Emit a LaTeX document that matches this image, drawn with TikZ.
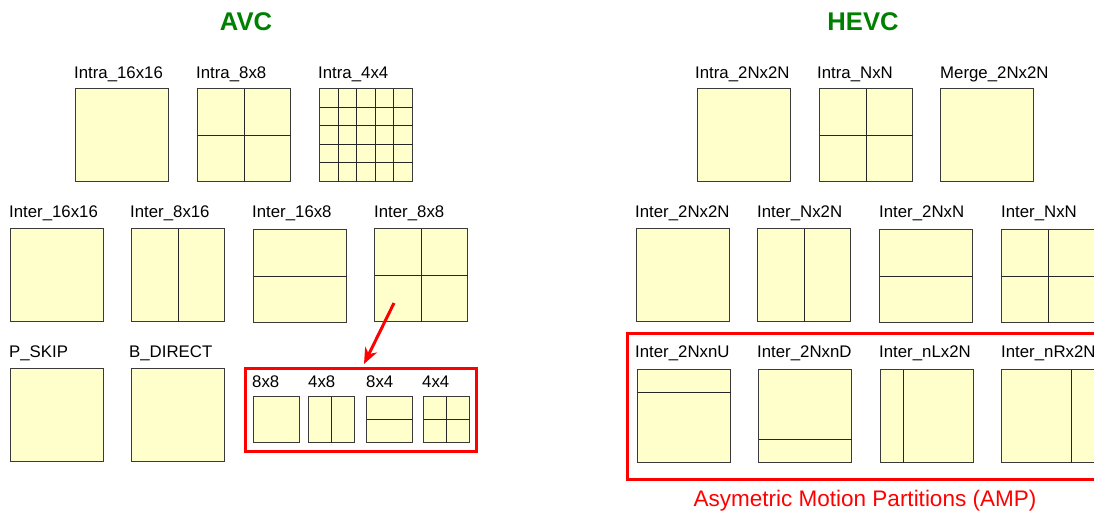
\documentclass[tikz,border=0pt]{standalone}
\usepackage{fontspec}
\setmainfont{Liberation Sans}
\usetikzlibrary{calc,arrows.meta}
\definecolor{boxfill}{HTML}{FFFFCC}
\definecolor{boxline}{HTML}{3A3A3A}
\definecolor{titlegreen}{HTML}{008000}
\definecolor{ampred}{HTML}{FF0000}
\newcommand\partv[2]{\draw[div] ($(#1.north west)!#2!(#1.north east)$) -- ($(#1.south west)!#2!(#1.south east)$);}
\newcommand\parth[2]{\draw[div] ($(#1.north west)!#2!(#1.south west)$) -- ($(#1.north east)!#2!(#1.south east)$);}
\begin{document}
\begin{tikzpicture}[x=1pt,y=-1pt,
  pbox/.style={draw=boxline, fill=boxfill, line width=1.2pt, minimum width=93pt, minimum height=93pt, inner sep=0pt, outer sep=0pt, anchor=north west},
  sbox/.style={pbox, minimum width=46pt, minimum height=46pt},
  lbl/.style={anchor=base west, font=\fontsize{16.8}{17}\selectfont, inner sep=0pt},
  ttl/.style={anchor=base, font=\fontsize{25.6}{26}\selectfont\bfseries, text=titlegreen, inner sep=0pt},
  div/.style={line width=1pt, draw=black!85},
  redframe/.style={draw=ampred, line width=3pt, inner sep=0pt, outer sep=0pt, anchor=north west},
]
\useasboundingbox (0,0) rectangle (1094,511);
\clip (0,0) rectangle (1094,511);

% titles
\node[ttl] (avc) at (246,31) {AVC};
\node[ttl] (hevc) at (863,31) {HEVC};

% ---------- AVC ----------
\node[pbox] (i16) at (75.5,88.5) {};
\node[lbl] (li16) at (74,78) {Intra\_16x16};
\node[pbox] (i8) at (197.5,88.5) {};
\node[lbl] (li8) at (196,78) {Intra\_8x8};
\partv{i8}{0.5}\parth{i8}{0.5}
\node[pbox] (i4) at (319.5,88.5) {};
\node[lbl] (li4) at (318,78) {Intra\_4x4};
\foreach \k in {1,2,3,4} {\partv{i4}{\k/5}\parth{i4}{\k/5}}

\node[pbox] (p16) at (10.5,228.5) {};
\node[lbl] (lp16) at (9,217) {Inter\_16x16};
\node[pbox] (p816) at (131.5,228.5) {};
\node[lbl] (lp816) at (130,217) {Inter\_8x16};
\partv{p816}{0.5}
\node[pbox] (p168) at (253.5,229.5) {};
\node[lbl] (lp168) at (252,217) {Inter\_16x8};
\parth{p168}{0.5}
\node[pbox] (p88) at (374.5,228.5) {};
\node[lbl] (lp88) at (374,217) {Inter\_8x8};
\partv{p88}{0.5}\parth{p88}{0.5}

\node[pbox] (pskip) at (10.5,368.5) {};
\node[lbl] (lpskip) at (9,357) {P\_SKIP};
\node[pbox] (bdir) at (131.5,368.5) {};
\node[lbl] (lbdir) at (129,357) {B\_DIRECT};

\node[redframe, minimum width=231pt, minimum height=83pt] (sub) at (245.5,368.5) {};
\node[sbox] (s88) at (253.5,396.5) {};
\node[lbl] (ls88) at (252,387) {8x8};
\node[sbox] (s48) at (308.5,396.5) {};
\node[lbl] (ls48) at (308,387) {4x8};
\partv{s48}{0.5}
\node[sbox] (s84) at (366.5,396.5) {};
\node[lbl] (ls84) at (366,387) {8x4};
\parth{s84}{0.5}
\node[sbox] (s44) at (423.5,396.5) {};
\node[lbl] (ls44) at (422,387) {4x4};
\partv{s44}{0.5}\parth{s44}{0.5}

\coordinate (astart) at (394,303);
\coordinate (atip) at (364,364);
\draw[draw=ampred, line width=3pt, -{Stealth[length=16pt,width=13pt,inset=5pt]}] (astart) -- (atip);

% ---------- HEVC ----------
\node[pbox] (h2n) at (697.5,88.5) {};
\node[lbl] (lh2n) at (695,78) {Intra\_2Nx2N};
\node[pbox] (hnn) at (819.5,88.5) {};
\node[lbl] (lhnn) at (817,78) {Intra\_NxN};
\partv{hnn}{0.5}\parth{hnn}{0.5}
\node[pbox] (hmg) at (940.5,88.5) {};
\node[lbl] (lhmg) at (940,78) {Merge\_2Nx2N};

\node[pbox] (q2n) at (636.5,228.5) {};
\node[lbl] (lq2n) at (635,217) {Inter\_2Nx2N};
\node[pbox] (qn2) at (757.5,228.5) {};
\node[lbl] (lqn2) at (757,217) {Inter\_Nx2N};
\partv{qn2}{0.5}
\node[pbox] (q2nn) at (879.5,229.5) {};
\node[lbl] (lq2nn) at (879,217) {Inter\_2NxN};
\parth{q2nn}{0.5}
\node[pbox] (qnn) at (1001.5,229.5) {};
\node[lbl] (lqnn) at (1001,217) {Inter\_NxN};
\partv{qnn}{0.5}\parth{qnn}{0.5}

\node[redframe, minimum width=480pt, minimum height=146pt] (amp) at (627.5,333.5) {};
\node[anchor=base, font=\fontsize{22.5}{23}\selectfont, text=ampred, inner sep=0pt] (lamp) at (865,506) {Asymetric Motion Partitions (AMP)};

\node[pbox] (au) at (637.5,369.5) {};
\node[lbl] (lau) at (635,357) {Inter\_2NxnU};
\parth{au}{0.25}
\node[pbox] (ad) at (758.5,369.5) {};
\node[lbl] (lad) at (757,357) {Inter\_2NxnD};
\parth{ad}{0.75}
\node[pbox] (al) at (880.5,369.5) {};
\node[lbl] (lal) at (879,357) {Inter\_nLx2N};
\partv{al}{0.25}
\node[pbox] (ar) at (1001.5,369.5) {};
\node[lbl] (lar) at (1001,357) {Inter\_nRx2N};
\partv{ar}{0.75}
\end{tikzpicture}
\end{document}
